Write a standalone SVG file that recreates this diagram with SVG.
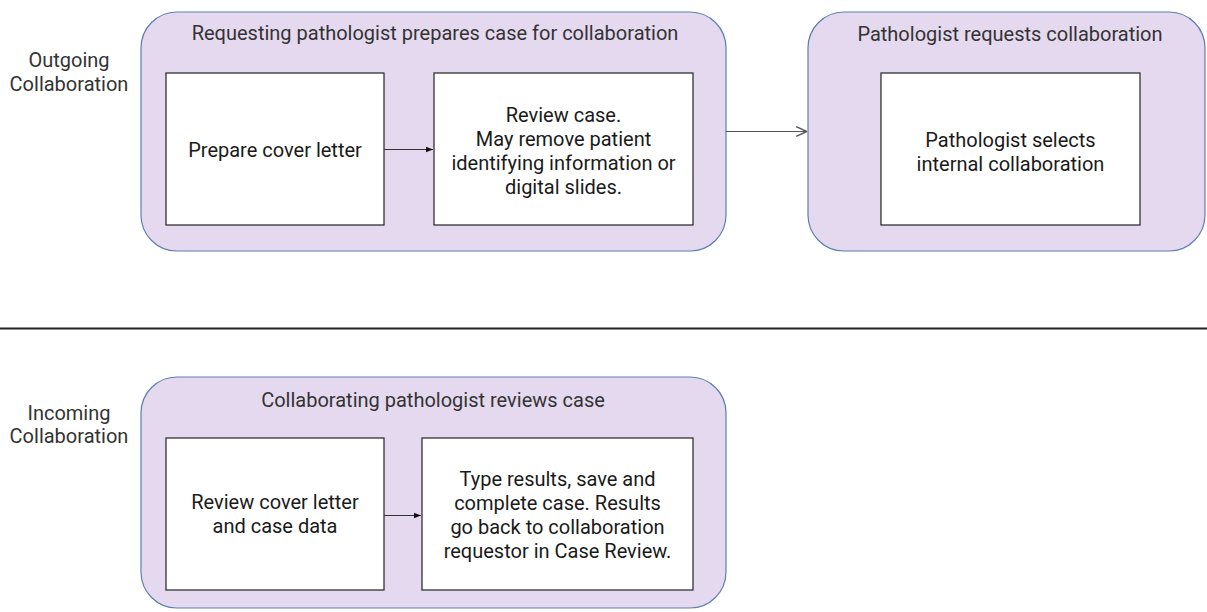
<svg xmlns="http://www.w3.org/2000/svg" width="1207" height="612" viewBox="0 0 1207 612">
<defs>
<style>
.grp{fill:#e5d9f0;stroke:#5f7fb0;stroke-width:1.2}
.box{fill:#fff;stroke:#222;stroke-width:1.2}
.t{font-family:Roboto,"Liberation Sans",sans-serif;font-size:20px;fill:#1a1a1a;text-anchor:middle}
.h{font-family:Roboto,"Liberation Sans",sans-serif;font-size:20px;fill:#333;text-anchor:middle}
.lbl{font-family:Roboto,"Liberation Sans",sans-serif;font-size:20px;fill:#333;text-anchor:middle}
.c{fill:none;stroke:#333;stroke-width:1.2}
.c2{fill:none;stroke:#555;stroke-width:1}
</style>
<marker id="fa" viewBox="0 0 10 10" refX="10" refY="5" markerWidth="7" markerHeight="7" markerUnits="userSpaceOnUse" orient="auto"><path d="M0,1 L10,5 L0,9 z" fill="#111"/></marker>
<marker id="oa" viewBox="0 0 10 10" refX="10" refY="5" markerWidth="12" markerHeight="12" markerUnits="userSpaceOnUse" orient="auto"><path d="M1,1 L10,5 L1,9" fill="none" stroke="#555" stroke-width="1.2"/></marker>
</defs>
<rect width="1207" height="612" fill="#fff"/>
<g id="lane-labels">
<text class="lbl" x="69" y="67">Outgoing</text>
<text class="lbl" x="69" y="91">Collaboration</text>
<text class="lbl" x="69" y="420">Incoming</text>
<text class="lbl" x="69" y="443">Collaboration</text>
</g>
<line x1="0" y1="328.5" x2="1207" y2="328.5" stroke="#222" stroke-width="2"/>
<g id="group-prepare">
<rect class="grp" x="141" y="12" width="585" height="239" rx="36"/>
<text class="h" x="435" y="40">Requesting pathologist prepares case for collaboration</text>
</g>
<g id="node-cover-letter">
<rect class="box" x="166" y="73" width="218" height="152"/>
<text class="t" x="275" y="157">Prepare cover letter</text>
</g>
<g id="node-review-case">
<rect class="box" x="434" y="73" width="259" height="152"/>
<text class="t" x="563.5" y="122">Review case.</text>
<text class="t" x="563.5" y="146">May remove patient</text>
<text class="t" x="563.5" y="170">identifying information or</text>
<text class="t" x="563.5" y="194">digital slides.</text>
</g>
<g id="group-request">
<rect class="grp" x="808" y="12" width="397" height="239" rx="36"/>
<text class="h" x="1010" y="41">Pathologist requests collaboration</text>
</g>
<g id="node-select">
<rect class="box" x="881" y="73" width="259" height="152"/>
<text class="t" x="1010.5" y="147">Pathologist selects</text>
<text class="t" x="1010.5" y="171">internal collaboration</text>
</g>
<g id="group-review">
<rect class="grp" x="141" y="377" width="585" height="231" rx="36"/>
<text class="h" x="433" y="407">Collaborating pathologist reviews case</text>
</g>
<g id="node-review-letter">
<rect class="box" x="166" y="438" width="218" height="152"/>
<text class="t" x="275" y="509">Review cover letter</text>
<text class="t" x="275" y="533">and case data</text>
</g>
<g id="node-type-results">
<rect class="box" x="422" y="438" width="271" height="152"/>
<text class="t" x="557.5" y="486">Type results, save and</text>
<text class="t" x="557.5" y="510">complete case. Results</text>
<text class="t" x="557.5" y="534">go back to collaboration</text>
<text class="t" x="557.5" y="558">requestor in Case Review.</text>
</g>
<g id="connectors">
<line class="c" x1="384" y1="149.5" x2="433" y2="149.5" marker-end="url(#fa)"/>
<line class="c2" x1="726" y1="131.5" x2="807" y2="131.5" marker-end="url(#oa)"/>
<line class="c" x1="384" y1="515.5" x2="421" y2="515.5" marker-end="url(#fa)"/>
</g>
</svg>
